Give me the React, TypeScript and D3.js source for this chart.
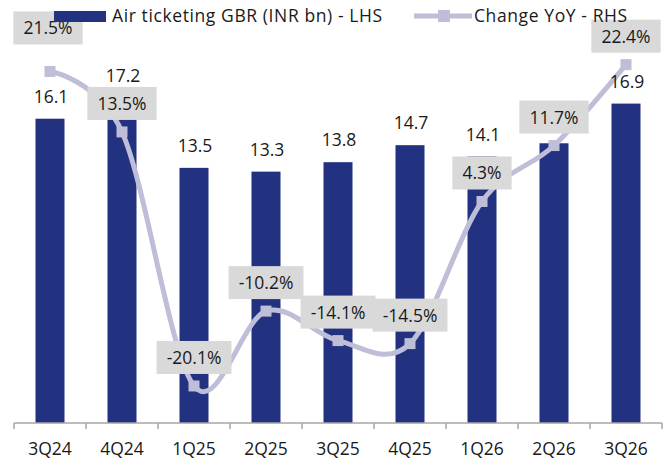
import React from 'react';
import * as d3 from 'd3';

const categories = ['3Q24', '4Q24', '1Q25', '2Q25', '3Q25', '4Q25', '1Q26', '2Q26', '3Q26'];
const gbrValues = [16.1, 17.2, 13.5, 13.3, 13.8, 14.7, 14.1, 14.8, 16.9];
const yoyValues = [21.5, 13.5, -20.1, -10.2, -14.1, -14.5, 4.3, 11.7, 22.4];
const leftDomain = [0, 20];
const rightDomain = [-25, 25];
const legendBarLabel = 'Air ticketing GBR (INR bn) - LHS';
const legendLineLabel = 'Change YoY - RHS';
// extra upward shift (px) of individual % labels, as placed in the original
const pctLabelLift = [15, 0, 0, 0, 0, 0, 0, 0, 0];

const W = 670;
const H = 463;
const M = { left: 14, right: 8, top: 45, bottom: 40 };
const FONT = 'Open Sans, sans-serif';
const BAR = '#223180';
const LINE = '#BEBED8';
const BOX = '#D9D9D9';
const FS = 17.5;

function textWidth(t: string, size: number) {
  let w = 0;
  for (const c of t) {
    if (c === '.') w += 0.27;
    else if (c === '%') w += 0.83;
    else if (c === '-') w += 0.32;
    else w += 0.572;
  }
  return w * size;
}

export default function App() {
  const xb = d3.scaleBand<string>().domain(categories).range([M.left, W - M.right]);
  const yL = d3.scaleLinear().domain(leftDomain).range([H - M.bottom, M.top]);
  const yR = d3.scaleLinear().domain(rightDomain).range([H - M.bottom, M.top]);
  const cx = (c: string) => (xb(c) as number) + xb.bandwidth() / 2;
  const barW = 29;

  const pts: [number, number][] = categories.map((c, i) => [cx(c), yR(yoyValues[i])]);
  const linePath = d3.line().curve(d3.curveCardinal.tension(0))(pts) || '';

  const axisY = H - M.bottom;
  const ticks = d3.range(categories.length + 1).map((i) => M.left + i * xb.bandwidth());

  const boxes = categories.map((c, i) => {
    const t = `${yoyValues[i].toFixed(1)}%`;
    const w = textWidth(t, FS) + 20;
    const cy = yR(yoyValues[i]) - 28.5 - pctLabelLift[i];
    const px = cx(c) - (pctLabelLift[i] ? 2 : 0);
    return { t, w, cy, px, top: cy - 16.5, bottom: cy + 16.5 };
  });

  return (
    <svg width={W} height={H} style={{ position: 'absolute', left: 0, top: 0, background: '#fff' }} fontFamily={FONT}>
      {categories.map((c, i) => (
        <rect key={c} x={cx(c) - barW / 2} y={yL(gbrValues[i])} width={barW} height={axisY - yL(gbrValues[i])} fill={BAR} />
      ))}
      <line x1={M.left} x2={W - M.right} y1={axisY} y2={axisY} stroke="#A6A6A6" strokeWidth={1.5} />
      {ticks.map((t, i) => (
        <line key={i} x1={t} x2={t} y1={axisY} y2={axisY + 6} stroke="#A6A6A6" strokeWidth={1.5} />
      ))}
      {categories.map((c) => (
        <text key={c} x={cx(c)} y={455} textAnchor="middle" fontSize={FS} fill="#1a1a1a">{c}</text>
      ))}
      <path d={linePath} fill="none" stroke={LINE} strokeWidth={5} />
      {pts.map((p, i) => (
        <rect key={i} x={p[0] - 5.5} y={p[1] - 5.5} width={11} height={11} fill={LINE} />
      ))}
      {categories.map((c, i) => {
        const base = yL(gbrValues[i]) - 16;
        const b = boxes[i];
        // label hidden behind the % box in the original
        if (base > b.top && base - 13 < b.bottom) return null;
        return (
          <text key={c} x={cx(c) + 1} y={base} textAnchor="middle" fontSize={FS} fill="#1a1a1a">
            {gbrValues[i].toFixed(1)}
          </text>
        );
      })}
      {boxes.map((b, i) => (
        <g key={i}>
          <rect x={b.px - b.w / 2} y={b.top} width={b.w} height={33} fill={BOX} />
          <text x={b.px} y={b.cy + 6.5} textAnchor="middle" fontSize={FS} fill="#1a1a1a">{b.t}</text>
        </g>
      ))}
      <rect x={54} y={11} width={52} height={11} fill={BAR} />
      <text x={112} y={22} fontSize={FS} letterSpacing={0.6} fill="#1a1a1a">{legendBarLabel}</text>
      <line x1={414} x2={472} y1={16} y2={16} stroke={LINE} strokeWidth={5} />
      <rect x={438} y={10} width={12} height={12} fill={LINE} />
      <text x={474} y={22} fontSize={FS} letterSpacing={0.6} fill="#1a1a1a">{legendLineLabel}</text>
    </svg>
  );
}
